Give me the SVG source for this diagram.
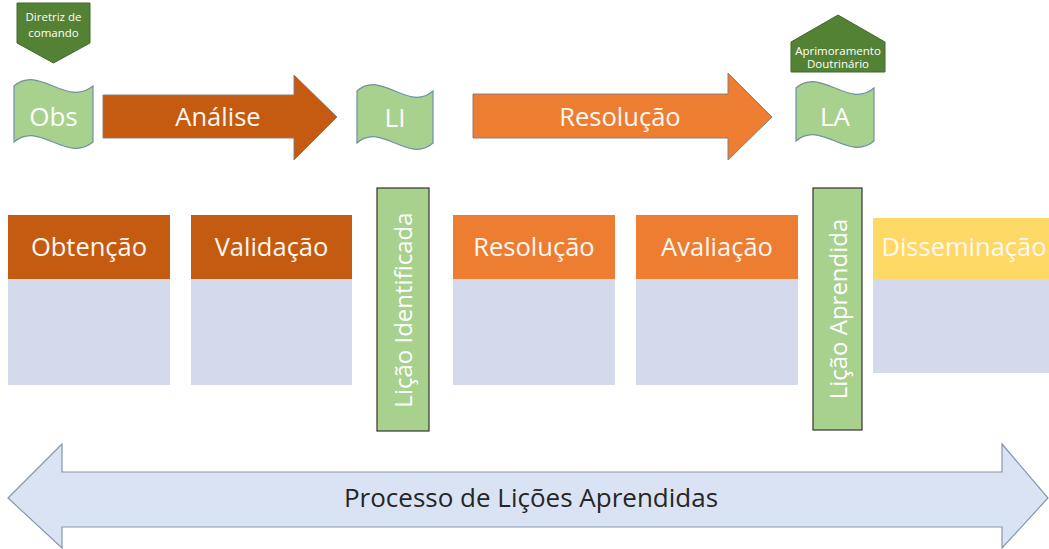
<svg xmlns="http://www.w3.org/2000/svg" width="1049" height="549" viewBox="0 0 1049 549">
<style>
text{font-family:"Open Sans","Noto Sans","Liberation Sans",sans-serif;}
.flag{fill:#A9D18E;stroke:#6F8FA5;stroke-width:1.2;}
.ft{fill:#FFFFFF;font-size:26px;text-anchor:middle;}
.pent{fill:#548235;stroke:#3E6A2A;stroke-width:1;}
.pt{fill:#FFFFFF;font-size:11.5px;text-anchor:middle;}
.arrow{stroke:#8A7F7F;stroke-width:1;}
.at{fill:#FFF8F0;font-size:25.5px;text-anchor:middle;}
.body{fill:#D4D9EB;}
.ht{fill:#FFF8F0;font-size:25.5px;text-anchor:middle;}
.bar{fill:#A9D18E;stroke:#333333;stroke-width:1.2;}
.bt{fill:#FFFFFF;font-size:24px;text-anchor:middle;}
</style>

<g id="diretriz">
<path class="pent" d="M17,3 H90 V43 L53.5,63 L17,43 Z"/>
<text class="pt" x="53.5" y="21">Diretriz de</text>
<text class="pt" x="53.5" y="37">comando</text>
</g>

<g id="aprimoramento">
<path class="pent" d="M838,15 L885,42 V72 H791 V42 Z"/>
<text class="pt" x="838" y="55">Aprimoramento</text>
<text class="pt" x="838" y="68">Doutrinário</text>
</g>

<g id="obs">
<path class="flag" d="M14,86 C40,64 66,108 93,86 V142 C66,164 40,120 14,142 Z"/>
<text class="ft" x="53.5" y="126">Obs</text>
</g>

<g id="li">
<path class="flag" d="M357,91 C382,69 408,113 433,91 V143 C408,165 382,121 357,143 Z"/>
<text class="ft" x="395" y="127">LI</text>
</g>

<g id="la">
<path class="flag" d="M796,88 C822,66 848,110 874,88 V141 C848,163 822,119 796,141 Z"/>
<text class="ft" x="835" y="126">LA</text>
</g>

<g id="analise">
<path class="arrow" fill="#C55A11" d="M103,95 H294 V75 L337,117 L294,160 V138 H103 Z"/>
<text class="at" x="218" y="126">Análise</text>
</g>

<g id="resolucao-arrow">
<path class="arrow" fill="#ED7D31" d="M473,94 H728 V73 L772,117 L728,160 V138 H473 Z"/>
<text class="at" x="620" y="126">Resolução</text>
</g>

<g id="obtencao">
<rect x="8" y="215" width="162" height="64" fill="#C55A11"/>
<rect class="body" x="8" y="279" width="162" height="106"/>
<text class="ht" x="89" y="256">Obtenção</text>
</g>

<g id="validacao">
<rect x="191" y="215" width="161" height="64" fill="#C55A11"/>
<rect class="body" x="191" y="279" width="161" height="106"/>
<text class="ht" x="271.5" y="256">Validação</text>
</g>

<g id="licao-identificada">
<rect class="bar" x="377" y="188" width="52" height="243"/>
<text class="bt" transform="translate(403,310) rotate(-90)" x="0" y="9">Lição Identificada</text>
</g>

<g id="resolucao">
<rect x="453" y="215" width="162" height="64" fill="#ED7D31"/>
<rect class="body" x="453" y="279" width="162" height="106"/>
<text class="ht" x="534" y="256">Resolução</text>
</g>

<g id="avaliacao">
<rect x="636" y="215" width="162" height="64" fill="#ED7D31"/>
<rect class="body" x="636" y="279" width="162" height="106"/>
<text class="ht" x="717" y="256">Avaliação</text>
</g>

<g id="licao-aprendida">
<rect class="bar" x="813" y="188" width="49" height="242"/>
<text class="bt" transform="translate(837.5,309) rotate(-90)" x="0" y="9">Lição Aprendida</text>
</g>

<g id="disseminacao">
<rect x="873" y="218" width="180" height="61" fill="#FFD966"/>
<rect class="body" x="873" y="279" width="180" height="94"/>
<text class="ht" x="964" y="256">Disseminação</text>
</g>

<g id="connectors">
<g id="processo">
<path fill="#DAE3F3" stroke="#8497B0" stroke-width="1.2" d="M8,498 L62,444 V472 H1002 V444 L1048,498 L1002,548 V527 H62 V548 Z"/>
<text x="531" y="507" fill="#262626" font-size="26" text-anchor="middle">Processo de Lições Aprendidas</text>
</g>
</g>
</svg>
